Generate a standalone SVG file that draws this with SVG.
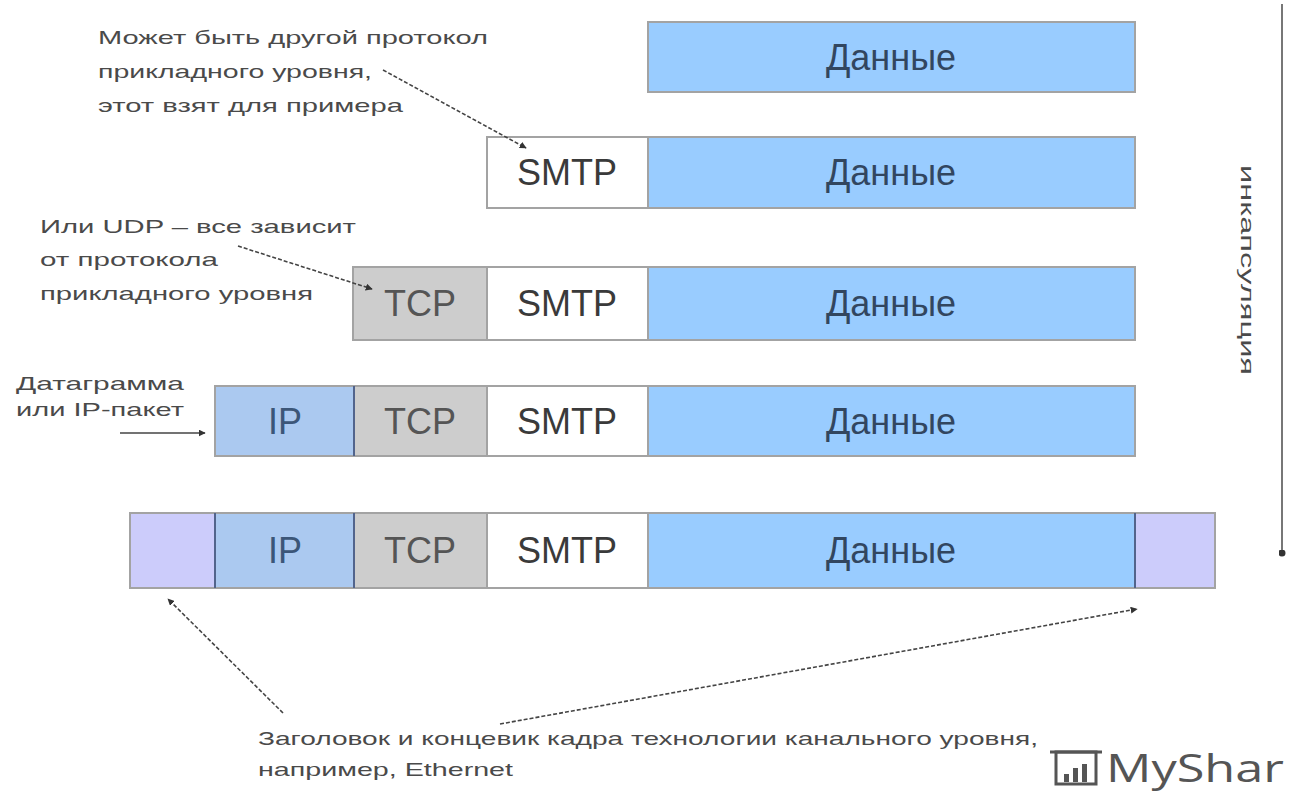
<svg xmlns="http://www.w3.org/2000/svg" width="1289" height="792" viewBox="0 0 1289 792">
  <style>
    .cell { stroke: #a3a3a3; stroke-width: 2; }
    .data { fill: #99ccff; }
    .smtp { fill: #ffffff; }
    .tcp { fill: #cdcdcd; }
    .ip { fill: #abc9f0; }
    .frame { fill: #ccccfb; }
    .sep { stroke: #52648c; stroke-width: 2; }
    .lbl { font-family: "Liberation Sans", Arial, sans-serif; font-size: 36px; text-anchor: middle; }
    .lbl-data { fill: #32465f; }
    .lbl-ip { fill: #3c5678; }
    .lbl-tcp { fill: #555555; }
    .lbl-smtp { fill: #3a3a3a; }
    .note { font-family: "Liberation Sans", Arial, sans-serif; font-size: 19px; fill: #4a4a4a; }
    .ptr { fill: none; stroke: #444444; stroke-width: 1.6; stroke-dasharray: 4 2; marker-end: url(#head); }
    .solid { fill: none; stroke: #444444; stroke-width: 1.6; marker-end: url(#head); }
  </style>
  <defs>
    <marker id="head" viewBox="0 0 10 10" refX="9" refY="5" markerWidth="7" markerHeight="7" orient="auto-start-reverse" markerUnits="userSpaceOnUse">
      <path d="M0,0 L10,5 L0,10 z" fill="#333333"/>
    </marker>
    <marker id="dot" viewBox="0 0 10 10" refX="5" refY="5" markerWidth="7" markerHeight="7" markerUnits="userSpaceOnUse">
      <circle cx="5" cy="5" r="5" fill="#333333"/>
    </marker>
  </defs>

  <rect width="1289" height="792" fill="#ffffff"/>

  <!-- Row 1: application data -->
  <g id="row1">
    <rect class="cell data" x="648" y="22" width="487" height="70"/>
    <text class="lbl lbl-data" x="891" y="70">Данные</text>
  </g>

  <!-- Row 2: SMTP + data -->
  <g id="row2">
    <rect class="cell smtp" x="487" y="137" width="161" height="71"/>
    <rect class="cell data" x="648" y="137" width="487" height="71"/>
    <text class="lbl lbl-smtp" x="567" y="185">SMTP</text>
    <text class="lbl lbl-data" x="891" y="185">Данные</text>
  </g>

  <!-- Row 3: TCP segment -->
  <g id="row3">
    <rect class="cell tcp" x="353" y="267" width="134" height="73"/>
    <rect class="cell smtp" x="487" y="267" width="161" height="73"/>
    <rect class="cell data" x="648" y="267" width="487" height="73"/>
    <text class="lbl lbl-tcp" x="420" y="316">TCP</text>
    <text class="lbl lbl-smtp" x="567" y="316">SMTP</text>
    <text class="lbl lbl-data" x="891" y="316">Данные</text>
  </g>

  <!-- Row 4: IP packet -->
  <g id="row4">
    <rect class="cell ip" x="215" y="386" width="139" height="70" stroke="#6d7fa6"/>
    <rect class="cell tcp" x="354" y="386" width="133" height="70"/>
    <rect class="cell smtp" x="487" y="386" width="161" height="70"/>
    <rect class="cell data" x="648" y="386" width="487" height="70"/>
    <line class="sep" x1="354" y1="386" x2="354" y2="456"/>
    <text class="lbl lbl-ip" x="285" y="434">IP</text>
    <text class="lbl lbl-tcp" x="420" y="434">TCP</text>
    <text class="lbl lbl-smtp" x="567" y="434">SMTP</text>
    <text class="lbl lbl-data" x="891" y="434">Данные</text>
  </g>

  <!-- Row 5: link-layer frame -->
  <g id="row5">
    <rect class="cell frame" x="130" y="513" width="85" height="75"/>
    <rect class="cell ip" x="215" y="513" width="139" height="75"/>
    <rect class="cell tcp" x="354" y="513" width="133" height="75"/>
    <rect class="cell smtp" x="487" y="513" width="161" height="75"/>
    <rect class="cell data" x="648" y="513" width="487" height="75"/>
    <rect class="cell frame" x="1135" y="513" width="80" height="75"/>
    <line class="sep" x1="215" y1="513" x2="215" y2="588"/>
    <line class="sep" x1="354" y1="513" x2="354" y2="588"/>
    <line class="sep" x1="1135" y1="513" x2="1135" y2="588"/>
    <text class="lbl lbl-ip" x="285" y="563">IP</text>
    <text class="lbl lbl-tcp" x="420" y="563">TCP</text>
    <text class="lbl lbl-smtp" x="567" y="563">SMTP</text>
    <text class="lbl lbl-data" x="891" y="563">Данные</text>
  </g>

  <!-- Encapsulation direction -->
  <g id="encapsulation">
    <line x1="1282" y1="4" x2="1282" y2="553" stroke="#555555" stroke-width="1.6" marker-end="url(#dot)"/>
    <text class="note" transform="translate(1241,165) rotate(90)" font-size="28" textLength="210" lengthAdjust="spacingAndGlyphs" fill="#3a3a3a">инкапсуляция</text>
  </g>

  <!-- Annotations -->
  <g id="note-app">
    <text class="note" x="98" y="44" textLength="390" lengthAdjust="spacingAndGlyphs">Может быть другой протокол</text>
    <text class="note" x="98" y="78" textLength="274" lengthAdjust="spacingAndGlyphs">прикладного уровня,</text>
    <text class="note" x="98" y="112" textLength="305" lengthAdjust="spacingAndGlyphs">этот взят для примера</text>
  </g>
  <g id="note-transport">
    <text class="note" x="40" y="233" textLength="316" lengthAdjust="spacingAndGlyphs">Или UDP – все зависит</text>
    <text class="note" x="40" y="266" textLength="178" lengthAdjust="spacingAndGlyphs">от протокола</text>
    <text class="note" x="40" y="300" textLength="273" lengthAdjust="spacingAndGlyphs">прикладного уровня</text>
  </g>
  <g id="note-ip">
    <text class="note" x="16" y="390" textLength="168" lengthAdjust="spacingAndGlyphs">Датаграмма</text>
    <text class="note" x="16" y="416" textLength="168" lengthAdjust="spacingAndGlyphs">или IP-пакет</text>
  </g>
  <g id="note-frame">
    <text class="note" x="258" y="745" textLength="780" lengthAdjust="spacingAndGlyphs">Заголовок и концевик кадра технологии канального уровня,</text>
    <text class="note" x="258" y="776" textLength="255" lengthAdjust="spacingAndGlyphs">например, Ethernet</text>
  </g>

  <!-- Pointer lines -->
  <g id="connectors">
    <line class="ptr" x1="383" y1="70" x2="526" y2="148"/>
    <line class="ptr" x1="238" y1="246" x2="372" y2="289"/>
    <line class="solid" x1="120" y1="433" x2="205" y2="433"/>
    <line class="ptr" x1="283" y1="713" x2="168" y2="599"/>
    <line class="ptr" x1="500" y1="724" x2="1137" y2="609"/>
  </g>

  <!-- Publisher mark -->
  <g id="brand">
    <rect x="1056" y="752" width="40" height="32" fill="none" stroke="#555555" stroke-width="3"/>
    <line x1="1050" y1="752" x2="1102" y2="752" stroke="#555555" stroke-width="3"/>
    <rect x="1064" y="774" width="5" height="8" fill="#555555"/>
    <rect x="1073" y="768" width="5" height="14" fill="#555555"/>
    <rect x="1082" y="764" width="5" height="18" fill="#555555"/>
    <text x="1106" y="782" font-family="'Open Sans', 'Liberation Sans', sans-serif" font-size="38" fill="#555555" textLength="178" lengthAdjust="spacingAndGlyphs">MyShar</text>
  </g>
</svg>
